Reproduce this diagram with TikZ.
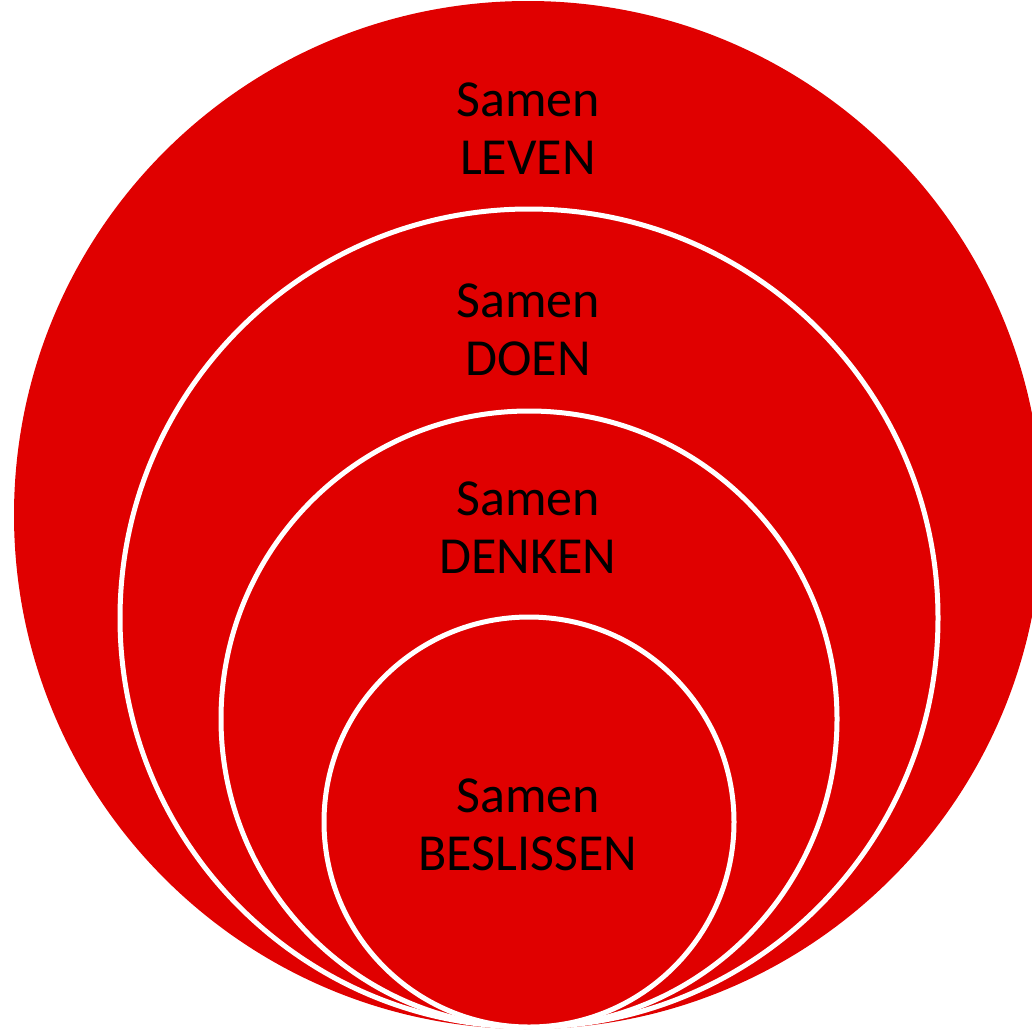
\documentclass[tikz,border=0pt]{standalone}
\usepackage{fontspec}
\setmainfont{Carlito}
\definecolor{ringred}{HTML}{E00000}
\begin{document}
\begin{tikzpicture}[x=1pt,y=-1pt,
  ring/.style={fill=ringred,draw=white,line width=5pt},
  lbl/.style={align=center,anchor=base,inner sep=0pt,font=\fontsize{52}{58}\selectfont,text=black}]
\useasboundingbox (0,0) rectangle (1032,1031);
\fill[ringred] (528,515) circle (514);
\draw[ring] (529,618) circle (409);
\draw[ring] (529,719) circle (308);
\draw[ring] (529,822) circle (205);
\node[lbl] (leven) at (528,174) {Samen\\LEVEN};
\node[lbl] (doen) at (528,375) {Samen\\DOEN};
\node[lbl] (denken) at (528,573) {Samen\\DENKEN};
\node[lbl] (beslissen) at (528,870) {Samen\\BESLISSEN};
\end{tikzpicture}
\end{document}
